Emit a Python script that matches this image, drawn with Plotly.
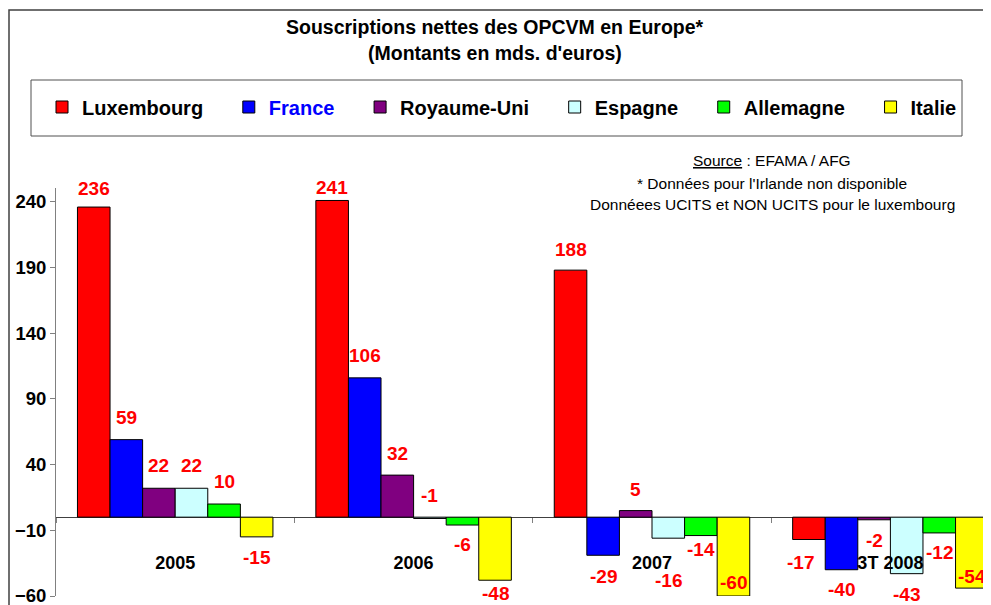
import plotly.graph_objects as go

# ---- data ----
categories = ["2005", "2006", "2007", "3T 2008"]
series_names = ["Luxembourg", "France", "Royaume-Uni", "Espagne", "Allemagne", "Italie"]
luxembourg = [236, 241, 188, -17]
france = [59, 106, -29, -40]
royaume_uni = [22, 32, 5, -2]
espagne = [22, -1, -16, -43]
allemagne = [10, -6, -14, -12]
italie = [-15, -48, -60, -54]
y_tickvals = [-60, -10, 40, 90, 140, 190, 240]

values = [luxembourg, france, royaume_uni, espagne, allemagne, italie]
colors = ["#FF0000", "#0000FF", "#800080", "#CCFFFF", "#00FF00", "#FFFF00"]

# label pixel offsets (vertical, from bar end), as placed in the reference
label_dy = [
    [19, 13, 21, -23],
    [22, 22, -21, -20],
    [23, 22, 21, -21],
    [23, 23, -42, -21],
    [23, -19, -14, -20],
    [-21, -13, 14, 12],
]
label_dx = [
    [0, 0, 0, -8],
    [0, 0, 0, 0],
    [0, 0, 0, 0],
    [0, 0, 0, 0],
    [0, 0, 0, 0],
    [0, 0, 0, 0],
]

FONT = "Liberation Sans, Arial, sans-serif"
OFF = 8                      # page body margin
W, H = 991 - OFF, 605 - OFF
L, T, B = 56 - OFF, 188 - OFF, 9
PW, PH = W - L, H - T - B
BARGAP = 0.18
Y_RANGE = [-60, 250.5]


def px_x(sx):
    return (sx - OFF - L) / PW


def px_y(sy):
    return (T + PH - (sy - OFF)) / PH


PAD = "\u00a0" * 3 + "\u2009"

fig = go.Figure()
for k, (name, vals, col) in enumerate(zip(series_names, values, colors)):
    label = name
    if name == "France":
        label = "<span style='color:#0000FF'>France</span>"
    if k < len(series_names) - 1:
        label = label + PAD
    fig.add_trace(go.Bar(
        x=categories, y=vals, name=label,
        marker=dict(color=col, line=dict(color="black", width=1)),
        hoverinfo="skip",
    ))

annotations = []
barw = (1 - BARGAP) / len(series_names)
for i, vals in enumerate(values):
    for j, v in enumerate(vals):
        annotations.append(dict(
            x=j + (i - (len(series_names) - 1) / 2) * barw, y=v,
            xref="x", yref="y", text=str(v), showarrow=False,
            xanchor="center", yanchor="middle",
            yshift=label_dy[i][j], xshift=label_dx[i][j],
            font=dict(family=FONT, size=19, color="#FF0000", weight="bold"),
        ))

# title
for txt, yy in [("Souscriptions nettes des OPCVM en Europe*", 27),
                ("(Montants en mds. d'euros)", 53)]:
    annotations.append(dict(x=px_x(495), y=px_y(yy), xref="paper", yref="paper",
                            text=txt, showarrow=False, xanchor="center", yanchor="middle",
                            font=dict(family=FONT, size=19.5, color="black", weight="bold")))
# source notes
notes = ["<u>Source</u> : EFAMA / AFG",
         "* Données pour l'Irlande non disponible",
         "Donnéees UCITS et NON UCITS pour le luxembourg"]
for txt, yy in zip(notes, [160, 183, 204]):
    annotations.append(dict(x=px_x(772), y=px_y(yy), xref="paper", yref="paper",
                            text=txt, showarrow=False, xanchor="center", yanchor="middle",
                            font=dict(family=FONT, size=15.5, color="black")))

shapes = [
    # outer frame
    dict(type="rect", xref="paper", yref="paper",
         x0=px_x(9), x1=px_x(1010), y0=px_y(630), y1=px_y(10),
         line=dict(color="#404040", width=1.5), fillcolor="rgba(0,0,0,0)", layer="below"),
    # legend frame
    dict(type="rect", xref="paper", yref="paper",
         x0=px_x(31), x1=px_x(962), y0=px_y(136), y1=px_y(80),
         line=dict(color="#505050", width=1), fillcolor="rgba(0,0,0,0)", layer="below"),
]

zero_pos = (0 - Y_RANGE[0]) / (Y_RANGE[1] - Y_RANGE[0])

fig.update_layout(
    width=W, height=H,
    margin=dict(l=L, r=0, t=T, b=B, autoexpand=False),
    paper_bgcolor="white", plot_bgcolor="white",
    barmode="group", bargap=BARGAP, bargroupgap=0,
    font=dict(family=FONT, color="black"),
    showlegend=True,
    legend=dict(orientation="h", x=px_x(42), xanchor="left", y=px_y(107), yanchor="middle",
                font=dict(family=FONT, size=20, color="black", weight="bold"),
                bgcolor="rgba(0,0,0,0)", borderwidth=0, traceorder="normal"),
    xaxis=dict(type="category", range=[-0.5, 3.422], anchor="free", position=zero_pos,
               showline=False, showgrid=False, zeroline=False,
               ticks="outside", tickson="boundaries", ticklen=5, tickcolor="#808080",
               ticklabelstandoff=33, layer="above traces",
               tickfont=dict(family=FONT, size=18, color="black", weight="bold")),
    yaxis=dict(range=Y_RANGE, tickvals=y_tickvals, showgrid=False,
               showline=True, linecolor="#808080", linewidth=1,
               ticks="outside", ticklen=5, tickcolor="#808080",
               ticklabeloverflow="allow",
               zeroline=True, zerolinecolor="#404040", zerolinewidth=1,
               tickfont=dict(family=FONT, size=18.5, color="black", weight="bold")),
    annotations=annotations,
    shapes=shapes,
)

fig.write_html("out.html")
